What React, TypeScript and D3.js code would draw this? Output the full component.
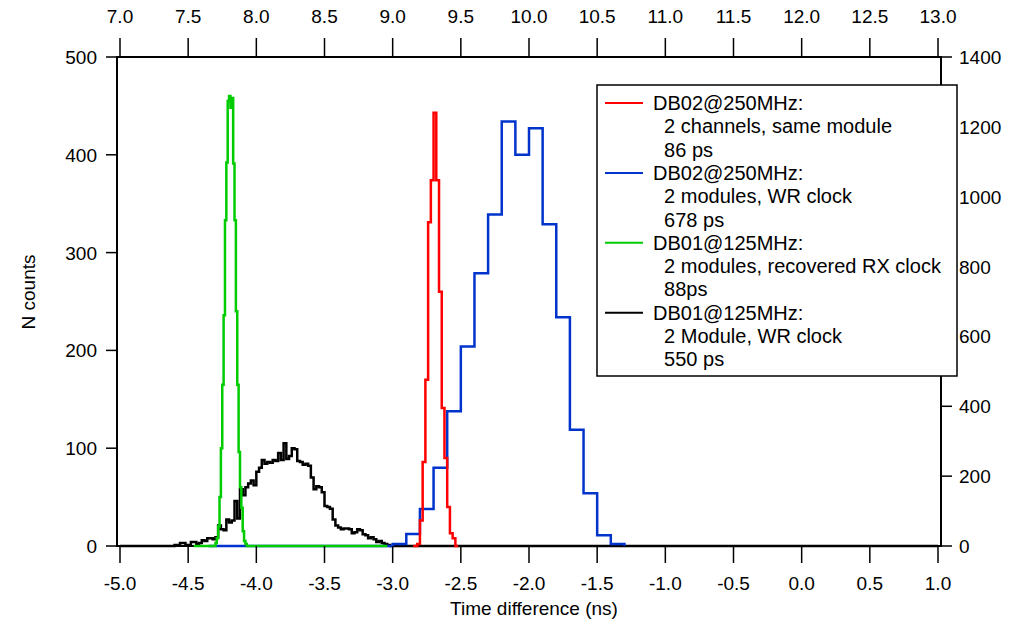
import React, { useEffect, useRef } from 'react';
import * as d3 from 'd3';

const W = 1021;
const H = 623;

// tick labels
const bottomTicks = [-5.0, -4.5, -4.0, -3.5, -3.0, -2.5, -2.0, -1.5, -1.0, -0.5, 0.0, 0.5, 1.0];
const topTicks = [7.0, 7.5, 8.0, 8.5, 9.0, 9.5, 10.0, 10.5, 11.0, 11.5, 12.0, 12.5, 13.0];
const leftTicks = [0, 100, 200, 300, 400, 500];
const rightTicks = [0, 200, 400, 600, 800, 1000, 1200, 1400];

// DB02@250MHz, 2 channels same module (left axis), 0.02 ns bins from -2.82
const redCounts = [2, 26, 86, 170, 331, 374, 443, 374, 260, 141, 90, 40, 13, 8];
// DB02@250MHz, 2 modules WR clock (right axis), 0.1 ns bins from -3.0
const blueCounts = [6, 34, 106, 224, 386, 571, 781, 949, 1215, 1120, 1196, 921, 655, 333, 151, 31, 6];
// DB01@125MHz, recovered RX clock (left axis), 0.01 ns bins from -4.30
const greenCounts = [3, 8, 20, 50, 100, 165, 236, 333, 392, 455, 460, 448, 458, 391, 333, 240, 165, 96, 60, 39, 15, 5, 2];
// DB01@125MHz, 2 Module WR clock (left axis), 0.02 ns bins from -4.60
const blackCounts = [
  1, 1, 3, 3, 1, 1, 4, 4, 2, 3,
  6, 5, 8, 8, 7, 9, 21, 17, 16, 27,
  24, 26, 46, 28, 58, 52, 60, 64, 67, 62,
  76, 80, 88, 84, 86, 85, 88, 87, 95, 88,
  105, 89, 92, 100, 99, 87, 86, 83, 84, 82,
  70, 58, 61, 60, 55, 41, 40, 38, 27, 21,
  19, 17, 18, 18, 17, 13, 14, 17, 16, 12,
  11, 8, 9, 7, 4, 5, 3, 2, 1, 0,
];

const legendLines = [
  ['DB02@250MHz:', '  2 channels, same module', '  86 ps'],
  ['DB02@250MHz:', '  2 modules, WR clock', '  678 ps'],
  ['DB01@125MHz:', '  2 modules, recovered RX clock', '  88ps'],
  ['DB01@125MHz:', '  2 Module, WR clock', '  550 ps'],
];
const legendColors = ['#ff0000', '#0033cc', '#00cc00', '#000000'];

const FONT = '"Liberation Sans", Arial, sans-serif';

function App() {
  const ref = useRef<SVGSVGElement>(null);

  useEffect(() => {
    const svg = d3.select(ref.current);
    svg.selectAll('*').remove();

    const x = d3.scaleLinear().domain([-5, 1]).range([120, 938]);
    const xTop = d3.scaleLinear().domain([7, 13]).range([120, 938]);
    const yL = d3.scaleLinear().domain([0, 500]).range([546, 57]);
    const yR = d3.scaleLinear().domain([0, 1400]).range([546, 57]);

    const series = [
      { counts: blackCounts, start: -4.6, bin: 0.02, from: -5, to: 1, y: yL, color: '#000000' },
      { counts: blueCounts, start: -3.0, bin: 0.1, from: -4.35, to: -1.3, y: yR, color: '#0033cc' },
      { counts: redCounts, start: -2.82, bin: 0.02, from: -2.85, to: -2.52, y: yL, color: '#ff0000' },
      { counts: greenCounts, start: -4.3, bin: 0.01, from: -4.46, to: -3.04, y: yL, color: '#00cc00' },
    ];

    // frame
    svg.append('rect')
      .attr('x', 117).attr('y', 57).attr('width', 824).attr('height', 489)
      .attr('fill', 'none').attr('stroke', '#000').attr('stroke-width', 2);

    series.forEach((s) => {
      const pts: [number, number][] = [[s.from, 0]];
      s.counts.forEach((c, i) => pts.push([s.start + i * s.bin, c]));
      pts.push([s.start + s.counts.length * s.bin, 0]);
      pts.push([s.to, 0]);
      const line = d3.line<[number, number]>()
        .x((d) => x(d[0]))
        .y((d) => s.y(d[1]))
        .curve(d3.curveStepAfter);
      svg.append('path')
        .attr('d', line(pts))
        .attr('fill', 'none')
        .attr('stroke', s.color)
        .attr('stroke-width', 2.5);
    });

    const g = svg.append('g').attr('font-family', FONT).attr('font-size', 19).attr('fill', '#000');

    // bottom axis
    bottomTicks.forEach((t) => {
      g.append('line').attr('x1', x(t)).attr('x2', x(t)).attr('y1', 546).attr('y2', 563)
        .attr('stroke', '#000').attr('stroke-width', 1.5);
      g.append('text').attr('x', x(t)).attr('y', 590).attr('text-anchor', 'middle').text(t.toFixed(1));
    });
    // top axis
    topTicks.forEach((t) => {
      g.append('line').attr('x1', xTop(t)).attr('x2', xTop(t)).attr('y1', 57).attr('y2', 38)
        .attr('stroke', '#000').attr('stroke-width', 1.5);
      g.append('text').attr('x', xTop(t)).attr('y', 23).attr('text-anchor', 'middle').text(t.toFixed(1));
    });
    // left axis
    leftTicks.forEach((t) => {
      g.append('line').attr('x1', 106).attr('x2', 117).attr('y1', yL(t)).attr('y2', yL(t))
        .attr('stroke', '#000').attr('stroke-width', 1.5);
      g.append('text').attr('x', 97).attr('y', yL(t) + 7).attr('text-anchor', 'end').text(t);
    });
    // right axis ticks
    rightTicks.forEach((t) => {
      g.append('line').attr('x1', 941).attr('x2', 952).attr('y1', yR(t)).attr('y2', yR(t))
        .attr('stroke', '#000').attr('stroke-width', 1.5);
    });

    g.append('text').attr('x', 534).attr('y', 615).attr('text-anchor', 'middle').text('Time difference (ns)');
    g.append('text')
      .attr('transform', 'translate(35,292) rotate(-90)')
      .attr('text-anchor', 'middle').text('N counts');

    // legend
    const lg = svg.append('g').attr('font-family', FONT).attr('font-size', 20);
    lg.append('rect').attr('x', 597).attr('y', 85).attr('width', 360).attr('height', 291)
      .attr('fill', '#fff').attr('stroke', '#000').attr('stroke-width', 1.5);
    legendLines.forEach((entry, k) => {
      const cy = 103 + k * 3 * 23.3;
      lg.append('line').attr('x1', 605).attr('x2', 643).attr('y1', cy).attr('y2', cy)
        .attr('stroke', legendColors[k]).attr('stroke-width', 2);
      entry.forEach((txt, j) => {
        lg.append('text').attr('x', 653).attr('y', cy + j * 23.3 + 7)
          .attr('xml:space', 'preserve').style('white-space', 'pre').text(txt);
      });
    });

    // right axis labels drawn above the legend box
    const rg = svg.append('g').attr('font-family', FONT).attr('font-size', 19).attr('fill', '#000');
    rightTicks.forEach((t) => {
      rg.append('text').attr('x', 959).attr('y', yR(t) + 7).attr('text-anchor', 'start').text(t);
    });
  }, []);

  return (
    <div style={{ position: 'absolute', left: 0, top: 0 }}>
      <svg ref={ref} width={W} height={H} style={{ display: 'block', background: '#fff' }} />
    </div>
  );
}

export default App;
